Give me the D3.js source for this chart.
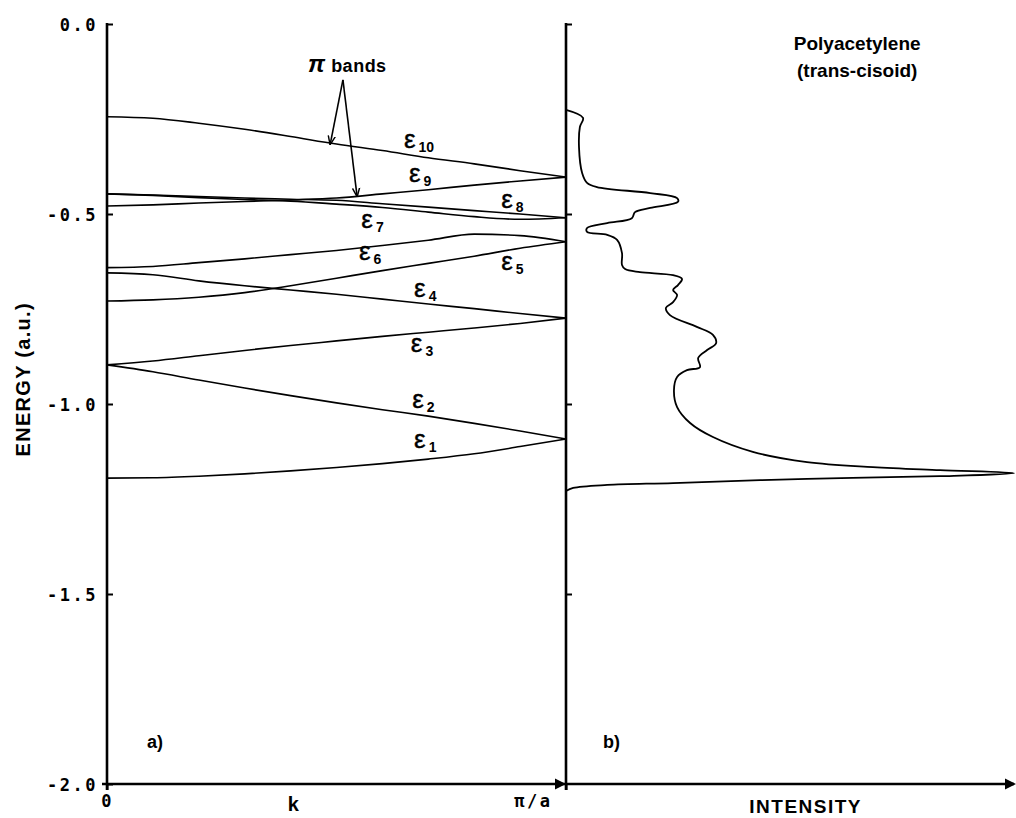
<!DOCTYPE html>
<html>
<head>
<meta charset="utf-8">
<script src="https://cdn.jsdelivr.net/npm/d3@7"></script>
<style>
  html, body { margin: 0; padding: 0; background: #fff; }
  svg { display: block; }
  .tick text { font-family: "DejaVu Sans Mono", "Liberation Mono", monospace; font-weight: bold; font-size: 17px; letter-spacing: 2.5px; fill: #000; }
  .lbl { font-family: "Liberation Sans", Arial, sans-serif; font-weight: bold; fill: #000; }
</style>
</head>
<body>
<svg id="chart" width="1016" height="818"></svg>
<script>
// Wave vector k, in units of pi/a
const kFrac = [0, 0.1, 0.2, 0.3, 0.4, 0.5, 0.6, 0.7, 0.8, 0.9, 1.0];

// Band energies (a.u.) at each k
const band1  = [-1.195, -1.194, -1.190, -1.184, -1.176, -1.167, -1.157, -1.145, -1.131, -1.112, -1.092];
const band2  = [-0.897, -0.915, -0.937, -0.958, -0.978, -0.997, -1.015, -1.032, -1.051, -1.071, -1.092];
const band3  = [-0.897, -0.887, -0.873, -0.859, -0.846, -0.834, -0.822, -0.811, -0.800, -0.788, -0.774];
const band4  = [-0.655, -0.660, -0.676, -0.689, -0.700, -0.711, -0.724, -0.737, -0.749, -0.762, -0.774];
const band5  = [-0.729, -0.726, -0.719, -0.707, -0.689, -0.669, -0.649, -0.630, -0.611, -0.590, -0.573];
const band6  = [-0.641, -0.638, -0.628, -0.618, -0.607, -0.596, -0.583, -0.569, -0.553, -0.557, -0.573];
const band7  = [-0.447, -0.451, -0.457, -0.462, -0.466, -0.474, -0.483, -0.495, -0.507, -0.514, -0.510];
const band8  = [-0.447, -0.450, -0.454, -0.458, -0.461, -0.464, -0.473, -0.482, -0.491, -0.500, -0.510];
const band9  = [-0.479, -0.476, -0.471, -0.467, -0.463, -0.458, -0.447, -0.436, -0.424, -0.413, -0.403];
const band10 = [-0.244, -0.248, -0.261, -0.277, -0.296, -0.316, -0.333, -0.352, -0.368, -0.386, -0.403];
const bandNames = ["1", "2", "3", "4", "5", "6", "7", "8", "9", "10"];

// Density of states: energy (a.u.) and relative intensity along the trace
const dosEnergy = [-0.226, -0.247, -0.271, -0.324, -0.392, -0.418, -0.429, -0.445, -0.458, -0.468,
                   -0.484, -0.495, -0.511, -0.524, -0.537, -0.547, -0.555, -0.568, -0.603, -0.634,
                   -0.645, -0.653, -0.661, -0.671, -0.687, -0.700, -0.713, -0.732, -0.747, -0.766,
                   -0.797, -0.818, -0.840, -0.858, -0.879, -0.903, -0.911, -0.929, -0.963, -1.008,
                   -1.050, -1.087, -1.126, -1.153, -1.166, -1.174, -1.182, -1.190, -1.197, -1.208,
                   -1.213, -1.221, -1.229];
const dosIntensity = [0, 0.038, 0.031, 0.029, 0.036, 0.047, 0.069, 0.188, 0.248, 0.250,
                      0.188, 0.154, 0.147, 0.092, 0.047, 0.047, 0.092, 0.114, 0.125, 0.125,
                      0.132, 0.165, 0.239, 0.259, 0.250, 0.239, 0.248, 0.239, 0.223, 0.232,
                      0.292, 0.328, 0.335, 0.315, 0.295, 0.299, 0.270, 0.248, 0.241, 0.248,
                      0.277, 0.328, 0.417, 0.538, 0.685, 0.835, 1.000, 0.835, 0.538, 0.239,
                      0.092, 0.016, 0];

// Axis ticks
const energyTicks = [0, -0.5, -1.0, -1.5, -2.0];
const kTicks = [0, 1];
const kTickLabels = ["0", "π/a"];

// Band label anchors (k, energy)
const labelK = [0.669, 0.665, 0.662, 0.669, 0.859, 0.549, 0.554, 0.859, 0.658, 0.647];
const labelE = [-1.116, -1.011, -0.863, -0.718, -0.647, -0.621, -0.537, -0.484, -0.416, -0.326];

const svg = d3.select("#chart");
const xLeft = 107, xMid = 566, xRight = 1014, yTop = 24, yBottom = 784;

const y  = d3.scaleLinear().domain([0, -2]).range([yTop, yBottom]);
const xk = d3.scaleLinear().domain([0, 1]).range([xLeft, xMid]);
const xi = d3.scaleLinear().domain([0, 1]).range([xMid, xRight]);

// arrow marker for the pi-band pointers
const defs = svg.append("defs");
defs.append("marker")
  .attr("id", "vhead").attr("viewBox", "0 0 10 10")
  .attr("refX", 10).attr("refY", 5)
  .attr("markerWidth", 9).attr("markerHeight", 9)
  .attr("markerUnits", "userSpaceOnUse")
  .attr("orient", "auto")
  .append("path").attr("d", "M0,1 L10,5 L0,9")
  .attr("fill", "none").attr("stroke", "#000").attr("stroke-width", 1.6);

// ---- left panel: band structure ----
const bands = [band1, band2, band3, band4, band5, band6, band7, band8, band9, band10];
const bandLine = d3.line()
  .x((d, i) => xk(kFrac[i]))
  .y(d => y(d))
  .curve(d3.curveMonotoneX);

svg.append("g").selectAll("path").data(bands).join("path")
  .attr("d", bandLine)
  .attr("fill", "none").attr("stroke", "#000").attr("stroke-width", 1.6);

// band labels epsilon_n
const lab = svg.append("g").selectAll("text").data(bandNames).join("text")
  .attr("x", (d, i) => xk(labelK[i]))
  .attr("y", (d, i) => y(labelE[i]))
  .attr("font-family", "'Liberation Sans', Arial, sans-serif")
  .attr("font-size", 26)
  .attr("fill", "#000")
  .attr("stroke", "#000").attr("stroke-width", 0.4);
lab.append("tspan").text("ε");
lab.append("tspan").text(d => d)
  .attr("dx", 3).attr("dy", 4)
  .attr("font-size", 14).attr("font-weight", "bold").attr("stroke-width", 0);

// "pi bands" annotation with two pointers
const piText = svg.append("text").attr("class", "lbl")
  .attr("x", xk(0.438)).attr("y", y(-0.126)).attr("font-size", 18)
  .attr("letter-spacing", 0.5);
piText.append("tspan").text("π").attr("font-size", 24).attr("font-style", "italic");
piText.append("tspan").text(" bands");

const arrowFrom = [0.514, -0.147];
const arrowTo = [[0.486, -0.318], [0.545, -0.455]];
svg.append("g").selectAll("line").data(arrowTo).join("line")
  .attr("x1", xk(arrowFrom[0])).attr("y1", y(arrowFrom[1]))
  .attr("x2", d => xk(d[0])).attr("y2", d => y(d[1]))
  .attr("stroke", "#000").attr("stroke-width", 1.6)
  .attr("marker-end", "url(#vhead)");

// ---- right panel: density of states ----
const dosLine = d3.line()
  .x((d, i) => xi(dosIntensity[i]))
  .y(d => y(d))
  .curve(d3.curveCatmullRom.alpha(0.5));
svg.append("path").datum(dosEnergy)
  .attr("d", dosLine)
  .attr("fill", "none").attr("stroke", "#000").attr("stroke-width", 1.8);

// ---- axes ----
const axStroke = 2.6;

// left energy axis with inward ticks
svg.append("g").attr("transform", `translate(${xLeft},0)`)
  .call(d3.axisLeft(y).tickValues(energyTicks).tickSizeInner(-6).tickSizeOuter(0)
        .tickPadding(9).tickFormat(d => d.toFixed(1)))
  .call(g => g.select(".domain").remove())
  .call(g => g.selectAll(".tick line").attr("stroke", "#000").attr("stroke-width", 2))
  .call(g => g.selectAll(".tick text").attr("dy", "0.36em"));

// right-panel energy axis (ticks only)
svg.append("g").attr("transform", `translate(${xMid},0)`)
  .call(d3.axisRight(y).tickValues(energyTicks.slice(0, 4)).tickSize(6).tickFormat(""))
  .call(g => g.select(".domain").remove())
  .call(g => g.selectAll(".tick line").attr("stroke", "#000").attr("stroke-width", 2));

// k axis
const kAxis = svg.append("g").attr("transform", `translate(0,${yBottom})`)
  .call(d3.axisBottom(xk).tickValues(kTicks).tickSize(6).tickPadding(5)
        .tickFormat((d, i) => kTickLabels[i]))
  .call(g => g.select(".domain").remove())
  .call(g => g.selectAll(".tick line").attr("stroke", "#000").attr("stroke-width", 2));
kAxis.selectAll(".tick text").filter(d => d === 1)
  .attr("text-anchor", "end").attr("x", -14).attr("letter-spacing", 1);
kAxis.selectAll(".tick text").filter(d => d === 0).attr("letter-spacing", 0);

// axis lines
const axes = svg.append("g").attr("stroke", "#000").attr("stroke-width", axStroke);
axes.append("line").attr("x1", xLeft).attr("x2", xLeft).attr("y1", yTop - 1).attr("y2", yBottom + 6);
axes.append("line").attr("x1", xMid).attr("x2", xMid).attr("y1", yTop - 1).attr("y2", yBottom + 6);
axes.append("line").attr("x1", xLeft - 5).attr("x2", xRight).attr("y1", yBottom).attr("y2", yBottom);

// filled arrowheads on the horizontal axis
const heads = [xk(1), xi(1) + 2];
svg.append("g").selectAll("path").data(heads).join("path")
  .attr("d", d => `M${d},${yBottom} L${d - 11},${yBottom - 5.5} L${d - 11},${yBottom + 5.5} Z`)
  .attr("fill", "#000");

// axis titles and panel labels
svg.append("text").attr("class", "lbl")
  .attr("transform", `translate(30,${y(-0.935)}) rotate(-90)`)
  .attr("text-anchor", "middle").attr("font-size", 20).attr("letter-spacing", 1.3)
  .text("ENERGY (a.u.)");
svg.append("text").attr("class", "lbl")
  .attr("x", xk(0.406)).attr("y", 811).attr("text-anchor", "middle").attr("font-size", 20)
  .text("k");
svg.append("text").attr("class", "lbl")
  .attr("x", xi(0.535)).attr("y", 813).attr("text-anchor", "middle").attr("font-size", 19)
  .attr("letter-spacing", 1.5)
  .text("INTENSITY");

svg.append("text").attr("class", "lbl")
  .attr("x", xi(0.65)).attr("y", 50).attr("text-anchor", "middle").attr("font-size", 19)
  .text("Polyacetylene");
svg.append("text").attr("class", "lbl")
  .attr("x", xi(0.65)).attr("y", 77).attr("text-anchor", "middle").attr("font-size", 19)
  .text("(trans-cisoid)");

svg.append("text").attr("class", "lbl")
  .attr("x", 147).attr("y", 748).attr("font-size", 18).text("a)");
svg.append("text").attr("class", "lbl")
  .attr("x", 603).attr("y", 748).attr("font-size", 18).text("b)");
</script>
</body>
</html>
